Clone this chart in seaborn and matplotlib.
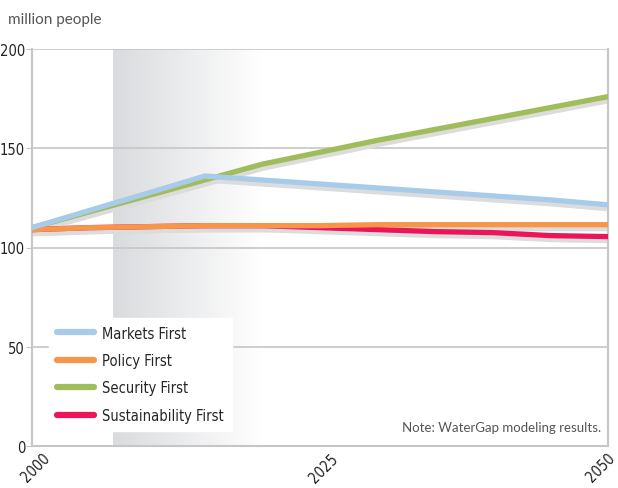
import numpy as np
import pandas as pd
import matplotlib
matplotlib.use("Agg")
import matplotlib.pyplot as plt
import matplotlib.transforms as mtransforms
from matplotlib import font_manager
import seaborn as sns

years = [2000, 2005, 2010, 2015, 2020, 2025, 2030, 2035, 2040, 2045, 2050]
markets = [110, 118.7, 127.3, 136, 134, 132, 130, 128, 126, 124, 121.5]
policy = [109, 110, 110.5, 111, 111, 111, 111.5, 111.5, 111.5, 111.5, 111.5]
security = [110, 118, 126, 134, 142, 148, 154, 159.5, 165, 170.5, 176]
sustain = [109, 110, 110.5, 111, 111, 110, 109, 108, 107.5, 106, 105.5]

scenarios = ["Markets First", "Policy First", "Security First", "Sustainability First"]
colors = ["#a9cbea", "#f7964a", "#9fbd5a", "#ec1559"]
draw_order = ["Security First", "Sustainability First", "Policy First", "Markets First"]
shade_start, shade_end = 2007, 2020

df = pd.DataFrame({
    "year": years * 4,
    "value": markets + policy + security + sustain,
    "scenario": np.repeat(scenarios, len(years)),
})

sns.set_style("white")
plt.rcParams["font.family"] = ["DejaVu Sans"]
cond = dict(family="DejaVu Sans", stretch="condensed")

fig = plt.figure(figsize=(6.18, 4.89), dpi=100)
ax = fig.add_axes([32 / 618, 42 / 489, 576 / 618, 397 / 489])

# gradient band
grad = np.linspace(0, 1, 256).reshape(1, -1)
cmap = matplotlib.colors.LinearSegmentedColormap.from_list("g", ["#dadbde", "#ffffff"])
ax.imshow(grad, extent=[shade_start, shade_end, 0, 200], aspect="auto", cmap=cmap, zorder=0)

for y in [50, 100, 150, 200]:
    ax.axhline(y, color="#c6c6c6", lw=1.2, zorder=1)

# shadows
shift = ax.transData + mtransforms.ScaledTranslation(1 / 100, -4 / 100, fig.dpi_scale_trans)
for name in draw_order:
    d = df[df.scenario == name]
    ax.plot(d.year, d.value, color="#dcdcdc", lw=3.8, transform=shift, zorder=2)

sns.lineplot(data=df, x="year", y="value", hue="scenario", hue_order=draw_order,
             palette=dict(zip(scenarios, colors)), lw=3.8, ax=ax, zorder=3, legend=False)

ax.set_xlim(2000, 2050)
ax.set_ylim(0, 200)
ax.set_xticks([2000, 2025, 2050])
ax.set_yticks([0, 50, 100, 150, 200])
ax.set_xlabel("")
ax.set_ylabel("")
ax.tick_params(axis="y", length=4, color="#c6c6c6", pad=1, left=True)
ax.tick_params(axis="x", length=0, pad=3)
for lab in ax.get_yticklabels():
    lab.set(fontsize=10.5, color="#222222", **cond)
for lab, dx in zip(ax.get_xticklabels(), [4, 4, -7]):
    lab.set(fontsize=10.5, color="#222222", rotation=45, ha="center", **cond)
    off = mtransforms.ScaledTranslation(dx / 100, 0, fig.dpi_scale_trans)
    lab.set_transform(lab.get_transform() + off)
for s in ["left", "bottom", "right"]:
    ax.spines[s].set_color("#c6c6c6")
    ax.spines[s].set_linewidth(1.5)
ax.spines["top"].set_visible(False)

handles = [plt.Line2D([], [], color=c, lw=4.5) for c in colors]
leg = ax.legend(handles, scenarios, loc="lower left", bbox_to_anchor=(0.017, 0.02),
                frameon=True, fancybox=False, framealpha=1, edgecolor="white",
                prop=font_manager.FontProperties(size=10.5, **cond),
                handlelength=2.5, labelspacing=0.85, borderpad=0.55, handletextpad=0.6)
leg.set_zorder(5)

fig.text(8 / 618, 1 - 20 / 489, "million people", fontsize=11, color="#555555",
         family="Lato", va="center")
ax.text(0.988, 0.048, "Note: WaterGap modeling results.", transform=ax.transAxes,
        ha="right", va="center", fontsize=9.5, color="#555555", family="Lato")

fig.savefig("out.png", dpi=100)
